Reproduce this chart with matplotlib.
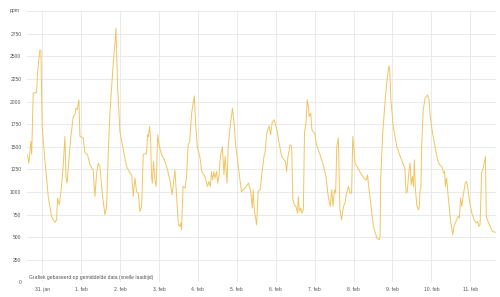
import matplotlib
matplotlib.use("Agg")
import matplotlib.pyplot as plt

# days after 31. jan, ppm
days = [-0.376, -0.342, -0.29, -0.27, -0.23, -0.145, -0.12, -0.06, -0.033, 0.0,
        0.07, 0.155, 0.24, 0.326, 0.37, 0.395, 0.44, 0.48, 0.54, 0.584,
        0.61, 0.64, 0.686, 0.738, 0.798, 0.84, 0.867, 0.9, 0.943, 0.97,
        1.055, 1.097, 1.166, 1.226, 1.31, 1.355, 1.4, 1.44, 1.483, 1.543,
        1.612, 1.655, 1.697, 1.74, 1.826, 1.869, 1.895, 1.938, 1.997, 2.083,
        2.169, 2.255, 2.298, 2.34, 2.383, 2.426, 2.47, 2.512, 2.555, 2.598,
        2.64, 2.683, 2.71, 2.726, 2.76, 2.786, 2.81, 2.83, 2.86, 2.897,
        2.93, 2.966, 3.0, 3.07, 3.14, 3.17, 3.22, 3.28, 3.34, 3.41,
        3.45, 3.5, 3.54, 3.56, 3.58, 3.62, 3.67, 3.71, 3.75, 3.79,
        3.84, 3.91, 3.94, 3.99, 4.05, 4.1, 4.18, 4.25, 4.28, 4.32,
        4.35, 4.38, 4.41, 4.44, 4.48, 4.51, 4.54, 4.58, 4.63, 4.67,
        4.70, 4.75, 4.78, 4.83, 4.89, 4.93, 4.97, 5.04, 5.12, 5.21,
        5.3, 5.35, 5.4, 5.42, 5.45, 5.51, 5.55, 5.6, 5.64, 5.7,
        5.73, 5.77, 5.83, 5.87, 5.91, 5.96, 6.03, 6.09, 6.15, 6.21,
        6.25, 6.28, 6.31, 6.37, 6.41, 6.44, 6.48, 6.52, 6.56, 6.58,
        6.61, 6.64, 6.67, 6.71, 6.74, 6.78, 6.81, 6.84, 6.86, 6.90,
        6.93, 7.0, 7.05, 7.14, 7.22, 7.29, 7.35, 7.4, 7.44, 7.47,
        7.51, 7.54, 7.57, 7.61, 7.65, 7.69, 7.74, 7.78, 7.82, 7.87,
        7.91, 7.95, 7.98, 8.04, 8.11, 8.21, 8.3, 8.33, 8.36, 8.38,
        8.45, 8.51, 8.6, 8.66, 8.68, 8.70, 8.75, 8.80, 8.85, 8.91,
        8.93, 8.96, 9.02, 9.11, 9.2, 9.28, 9.32, 9.35, 9.38, 9.42,
        9.45, 9.48, 9.51, 9.54, 9.56, 9.59, 9.63, 9.67, 9.69, 9.71,
        9.73, 9.75, 9.79, 9.84, 9.9, 9.94, 9.97, 10.03, 10.1, 10.16,
        10.21, 10.27, 10.31, 10.34, 10.36, 10.39, 10.44, 10.5, 10.55, 10.58,
        10.63, 10.69, 10.72, 10.75, 10.78, 10.82, 10.87, 10.9, 10.93, 10.98,
        11.04, 11.1, 11.15, 11.19, 11.22, 11.25, 11.29, 11.34, 11.39, 11.41,
        11.44, 11.51, 11.57, 11.64]
ppm = [1412, 1320, 1560, 1418, 2095, 2103, 2316, 2574, 2555, 1725,
       1357, 951, 730, 664, 693, 933, 859, 989, 1283, 1615,
       1172, 1099, 1357, 1615, 1836, 1855, 1929, 1910, 2021, 1615,
       1597, 1438, 1412, 1302, 1246, 951, 1210, 1320, 1283, 989,
       749, 841, 1418, 1873, 2426, 2648, 2813, 2168, 1670, 1468,
       1283, 1210, 1191, 951, 1155, 1006, 989, 785, 841, 1418,
       1423, 1423, 1634, 1615, 1725, 1578, 1172, 1099, 1338, 1135,
       1062, 1634, 1523, 1412, 1357, 1320, 1246, 1135, 970, 1246,
       970, 638, 620, 657, 583, 1062, 1043, 1172, 1523, 1560,
       1873, 2065, 1763, 1486, 1394, 1228, 1172, 1062, 1117, 1062,
       1228, 1135, 1228, 1154, 1228, 1099, 1172, 1394, 1504, 1191,
       1394, 1099, 1504, 1725, 1929, 1763, 1523, 1283, 1006, 1043,
       1099, 1025, 823, 1025, 805, 638, 1006, 1025, 1191, 1394,
       1449, 1652, 1733, 1634, 1770, 1800, 1688, 1542, 1394, 1357,
       1339, 1228, 1376, 1523, 1505, 915, 860, 841, 767, 951,
       786, 823, 767, 804, 1652, 1781, 2021, 1947, 1836, 1873,
       1688, 1652, 1523, 1412, 1302, 1173, 951, 841, 1025, 841,
       1025, 988, 1505, 1597, 804, 693, 841, 878, 988, 1062,
       988, 988, 1615, 1320, 1265, 1191, 1136, 1136, 1191, 1099,
       841, 619, 491, 473, 509, 1173, 1652, 1947, 2205, 2397,
       2352, 2021, 1725, 1505, 1394, 1302, 1265, 988, 1006, 1210,
       1320, 1080, 1173, 1062, 1357, 1025, 841, 804, 841, 1025,
       1043, 1505, 1910, 2040, 2076, 2021, 1836, 1652, 1486, 1357,
       1302, 1283, 1210, 1228, 1062, 1154, 915, 657, 527, 619,
       675, 730, 712, 933, 841, 970, 1099, 1117, 1062, 897,
       767, 693, 657, 675, 619, 638, 1210, 1283, 1394, 730,
       693, 619, 565, 554]

tick_days = list(range(12))
tick_labels = ["31. jan", "1. feb", "2. feb", "3. feb", "4. feb", "5. feb",
               "6. feb", "7. feb", "8. feb", "9. feb", "10. feb", "11. feb"]
y_ticks = [0, 250, 500, 750, 1000, 1250, 1500, 1750, 2000, 2250, 2500, 2750, 3000]

plt.rcParams['font.family'] = ['Liberation Sans', 'DejaVu Sans']

fig = plt.figure(figsize=(5, 2.97), dpi=100)
ax = fig.add_axes([0.054, 0.049, 0.938, 0.913])

ax.plot(days, ppm, color='#f0c560', lw=0.7)

ax.set_xlim(-0.39, 11.66)
ax.set_ylim(0, 3000)
ax.set_xticks(tick_days)
ax.set_xticklabels(tick_labels)
ax.set_yticks(y_ticks)
ax.set_yticklabels([str(v) if v < 3000 else "" for v in y_ticks])
ax.grid(True, color='#e6e6e6', lw=0.6)
ax.set_axisbelow(True)
for s in ax.spines.values():
    s.set_visible(False)
ax.tick_params(length=0, labelsize=3.6, colors='#555555')
ax.tick_params(axis='y', pad=4)
ax.tick_params(axis='x', pad=3)

fig.text(0.02, 0.965, "ppm", fontsize=3.6, color='#555555', va='center')
ax.text(0.004, 0.01, "Grafiek gebaseerd op gemiddelde data (snelle laadtijd)",
        transform=ax.transAxes, fontsize=3.6, color='#555555', va='bottom',
        bbox=dict(facecolor='white', edgecolor='none', pad=0.3))

fig.savefig("out.png", dpi=100)
